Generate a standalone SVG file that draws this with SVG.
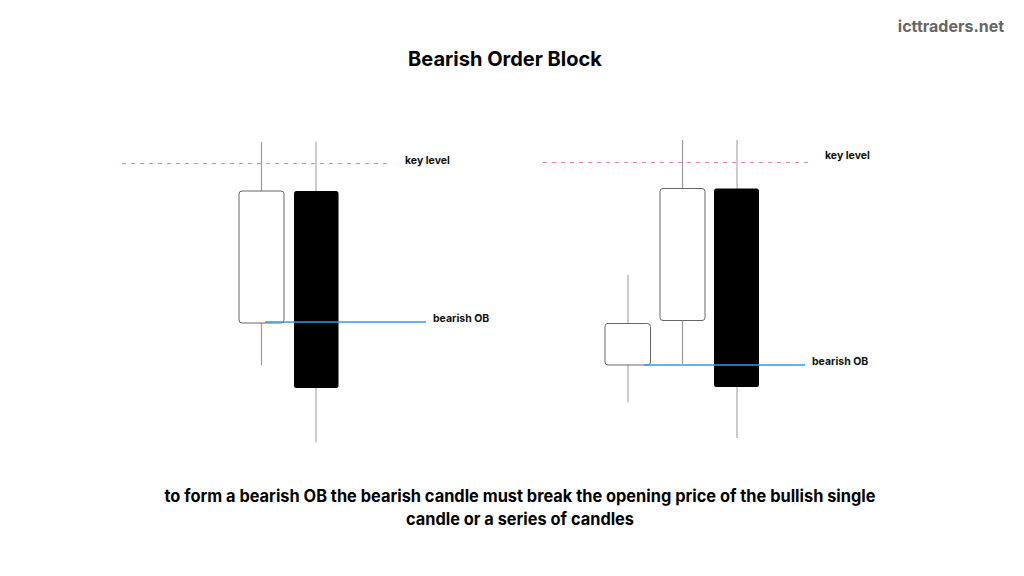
<svg xmlns="http://www.w3.org/2000/svg" width="1024" height="576" viewBox="0 0 1024 576">
<style>
.t{font-family:Inter,"Liberation Sans",sans-serif;font-weight:700;fill:#000}
.lbl{font-family:Inter,"Liberation Sans",sans-serif;font-weight:700;font-size:10.5px;fill:#111}
.wick{stroke:#999;stroke-width:1.2}
.wick2{stroke:#bbb;stroke-width:1.5}
.bull{fill:#fff;stroke:#666;stroke-width:1}
.bear{fill:#000}
.key{stroke:#e08a80;stroke-width:1;stroke-dasharray:4 5}
.ob{stroke:#2f9bf0;stroke-width:1.3}
</style>
<rect width="1024" height="576" fill="#fff"/>
<text x="951" y="32" text-anchor="middle" style="font-family:Inter,'Liberation Sans',sans-serif;font-weight:700;font-size:16px;fill:#666">icttraders.net</text>
<text class="t" x="505" y="66" text-anchor="middle" font-size="20">Bearish Order Block</text>

<g id="connectors">
<line class="key" x1="122" y1="163.5" x2="390" y2="163.5"/>
<line class="key" x1="543" y1="162.5" x2="810" y2="162.5"/>
</g>

<g id="left-bull">
<line class="wick" x1="261.5" y1="142" x2="261.5" y2="365"/>
<rect class="bull" x="239" y="191" width="45" height="132" rx="3"/>
</g>
<g id="left-bear">
<line class="wick2" x1="316" y1="142" x2="316" y2="442"/>
<rect class="bear" x="294" y="191" width="44.5" height="197" rx="2.5"/>
</g>
<g id="left-ob">
<line class="ob" x1="265" y1="322" x2="426" y2="322"/>
</g>
<text class="lbl" x="405" y="164">key level</text>
<text class="lbl" x="433" y="322">bearish OB</text>

<g id="right-small">
<line class="wick2" x1="628" y1="275" x2="628" y2="402"/>
<rect class="bull" x="605" y="323.5" width="45.5" height="41.5" rx="3"/>
</g>
<g id="right-bull">
<line class="wick" x1="682.5" y1="140" x2="682.5" y2="364"/>
<rect class="bull" x="660" y="188.5" width="45" height="132" rx="3"/>
</g>
<g id="right-bear">
<line class="wick2" x1="737" y1="140" x2="737" y2="438"/>
<rect class="bear" x="714" y="188.5" width="45" height="198.5" rx="2.5"/>
</g>
<g id="right-ob">
<line class="ob" x1="644" y1="365" x2="805" y2="365"/>
</g>
<text class="lbl" x="825" y="159">key level</text>
<text class="lbl" x="812" y="365">bearish OB</text>

<text class="t" x="520" y="502" text-anchor="middle" font-size="17" textLength="711" lengthAdjust="spacingAndGlyphs">to form a bearish OB the bearish candle must break the opening price of the bullish single</text>
<text class="t" x="520" y="525" text-anchor="middle" font-size="17" textLength="228" lengthAdjust="spacingAndGlyphs">candle or a series of candles</text>
</svg>
